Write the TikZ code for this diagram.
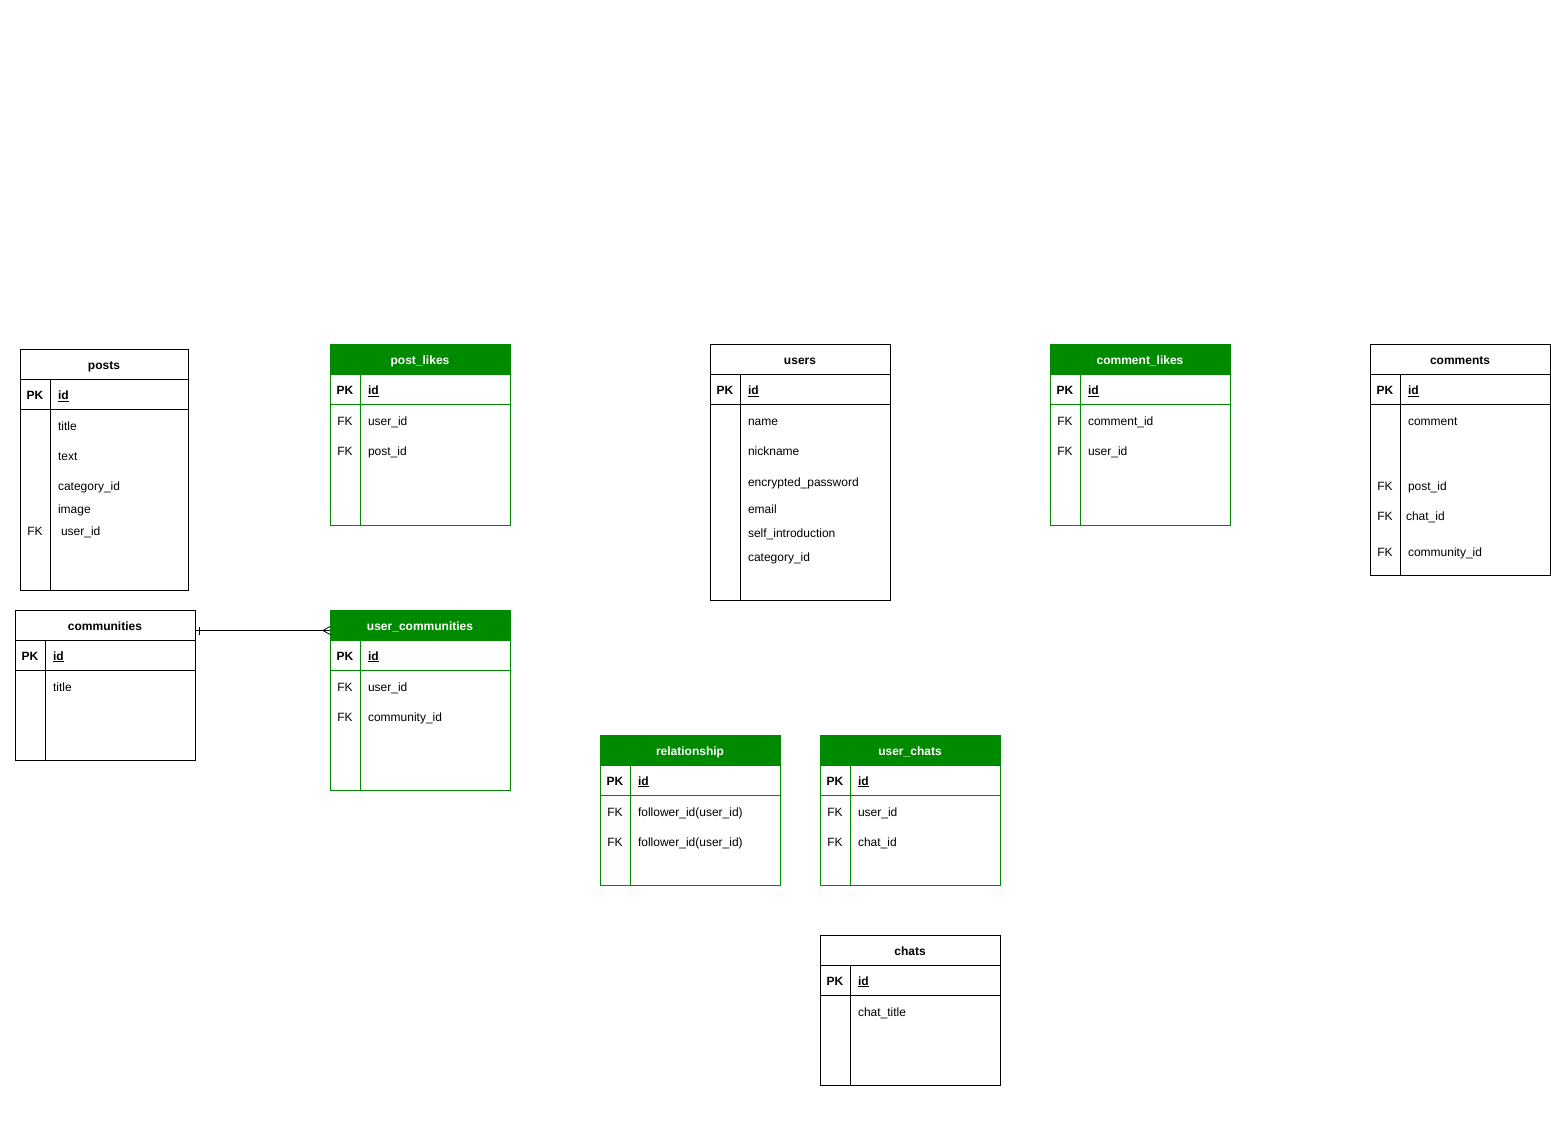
\documentclass[tikz,border=0pt]{standalone}
\usepackage{fontspec}
\setmainfont{Liberation Sans}
\definecolor{ergreen}{HTML}{008A00}
\newcommand{\erfontsz}{\fontsize{12}{14}\selectfont}
\tikzset{
  x=1pt, y=-1pt,
  every node/.style={inner sep=0pt, outer sep=0pt, font=\erfontsz, text height=11pt, text depth=1pt},
  tblbox/.style={line width=1pt, anchor=north west},
  hdrbox/.style={line width=1pt, anchor=north west, minimum height=30pt, font=\erfontsz\bfseries},
  keytxt/.style={font=\erfontsz\bfseries},
  fldtxt/.style={anchor=west},
  fktxt/.style={},
  conn/.style={line width=0.8pt, black},
}
% #1 name #2 x #3 y #4 w #5 h #6 title #7 stroke #8 head fill #9 head text
\newcommand{\ertable}[9]{%
  \node[tblbox, draw=#7, minimum width=#4pt, minimum height=#5pt] (#1) at (#2,#3) {};
  \node[hdrbox, draw=#7, fill=#8, text=#9, minimum width=#4pt] (#1-head) at (#2,#3) {#6};
  \draw[#7, line width=1pt] (#2,#3+60) -- ++(#4,0);
  \draw[#7, line width=1pt] (#2+30,#3+30) -- (#2+30,#3+#5);
  \node[keytxt] (#1-pk) at (#2+15,#3+45) {PK};
  \node[keytxt, anchor=west] (#1-id) at (#2+38,#3+45) {\underline{id}};
}
% #1 name #2 x #3 y #4 text
\newcommand{\erfield}[4]{\node[fldtxt] (#1) at (#2,#3) {#4};}
\newcommand{\erkey}[3]{\node[fktxt] (#1) at (#2,#3) {FK};}
\begin{document}
\begin{tikzpicture}
\useasboundingbox (0,0) rectangle (1551,1131);
\fill[white] (0,0) rectangle (1551,1131);

% posts
\ertable{posts}{20}{350}{168}{240}{posts}{black}{white}{black}
\erfield{posts-title}{58}{426}{title}
\erfield{posts-text}{58}{456}{text}
\erfield{posts-cat}{58}{486}{category\_id}
\erfield{posts-image}{58}{509}{image}
\erfield{posts-user}{61}{531}{user\_id}
\erkey{posts-fk1}{35}{531}

% post_likes
\ertable{plikes}{330}{345}{180}{180}{post\_likes}{ergreen}{ergreen}{white}
\erkey{plikes-fk1}{345}{421}
\erfield{plikes-user}{368}{421}{user\_id}
\erkey{plikes-fk2}{345}{451}
\erfield{plikes-post}{368}{451}{post\_id}

% users
\ertable{users}{710}{345}{180}{255}{users}{black}{white}{black}
\erfield{users-name}{748}{421}{name}
\erfield{users-nick}{748}{451}{nickname}
\erfield{users-pass}{748}{481}{encrypted\_password}
\erfield{users-email}{748}{508}{email}
\erfield{users-self}{748}{532}{self\_introduction}
\erfield{users-cat}{748}{556}{category\_id}

% comment_likes
\ertable{clikes}{1050}{345}{180}{180}{comment\_likes}{ergreen}{ergreen}{white}
\erkey{clikes-fk1}{1065}{421}
\erfield{clikes-comment}{1088}{421}{comment\_id}
\erkey{clikes-fk2}{1065}{451}
\erfield{clikes-user}{1088}{451}{user\_id}

% comments
\ertable{comments}{1370}{345}{180}{230}{comments}{black}{white}{black}
\erfield{comments-comment}{1408}{421}{comment}
\erkey{comments-fk1}{1385}{486}
\erfield{comments-post}{1408}{486}{post\_id}
\erkey{comments-fk2}{1385}{516}
\erfield{comments-chat}{1406}{516}{chat\_id}
\erkey{comments-fk3}{1385}{551}
\erfield{comments-comm}{1408}{551}{community\_id}

% communities
\ertable{communities}{15}{610}{180}{150}{communities}{black}{white}{black}
\erfield{communities-title}{53}{686}{title}

% user_communities
\ertable{ucomm}{330}{610}{180}{180}{user\_communities}{ergreen}{ergreen}{white}
\erkey{ucomm-fk1}{345}{686}
\erfield{ucomm-user}{368}{686}{user\_id}
\erkey{ucomm-fk2}{345}{716}
\erfield{ucomm-comm}{368}{716}{community\_id}

% relationship
\ertable{rel}{600}{735}{180}{150}{relationship}{ergreen}{ergreen}{white}
\erkey{rel-fk1}{615}{811}
\erfield{rel-f1}{638}{811}{follower\_id(user\_id)}
\erkey{rel-fk2}{615}{841}
\erfield{rel-f2}{638}{841}{follower\_id(user\_id)}

% user_chats
\ertable{uchats}{820}{735}{180}{150}{user\_chats}{ergreen}{ergreen}{white}
\erkey{uchats-fk1}{835}{811}
\erfield{uchats-user}{858}{811}{user\_id}
\erkey{uchats-fk2}{835}{841}
\erfield{uchats-chat}{858}{841}{chat\_id}

% chats
\ertable{chats}{820}{935}{180}{150}{chats}{black}{white}{black}
\erfield{chats-title}{858}{1011}{chat\_title}

% connector communities -> user_communities
\draw[conn] ([yshift=-20.5pt]communities.north east) coordinate (cA) -- ([yshift=-20.5pt]ucomm.north west) coordinate (cB);
\draw[conn] ([xshift=4pt]cA) ++(0,-4) -- ++(0,8);
\draw[conn] ([xshift=-7pt]cB) -- ++(7,-4);
\draw[conn] ([xshift=-7pt]cB) -- ++(7,4);
\end{tikzpicture}
\end{document}
